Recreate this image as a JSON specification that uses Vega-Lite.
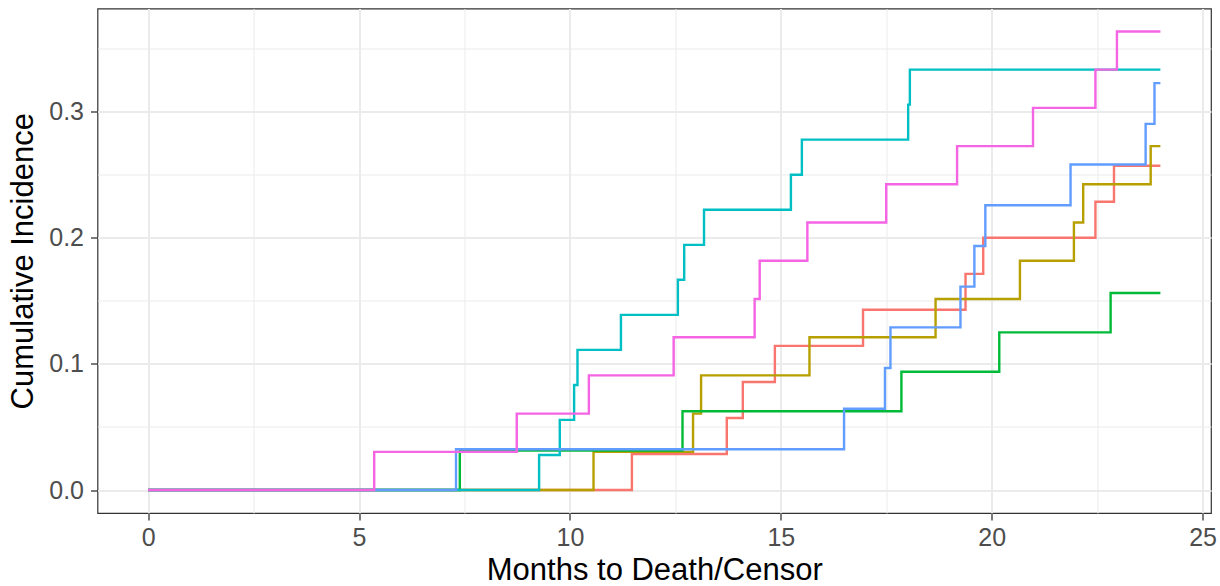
{
  "$schema": "https://vega.github.io/schema/vega-lite/v6.json",
  "autosize": {"type": "none"},
  "width": 1113.5,
  "height": 504.5,
  "padding": {"left": 97.5, "top": 8.5, "right": 9, "bottom": 73},
  "background": "white",
  "config": {
    "view": {"stroke": "#333333", "strokeWidth": 1.2},
    "font": "Liberation Sans"
  },
  "data": {"values": [
    {"g": "1", "t": 0, "ci": 0}, {"g": "1", "t": 11.47, "ci": 0.0286}, {"g": "1", "t": 13.72, "ci": 0.0571}, {"g": "1", "t": 14.1, "ci": 0.0857}, {"g": "1", "t": 14.86, "ci": 0.1143}, {"g": "1", "t": 16.95, "ci": 0.1429}, {"g": "1", "t": 19.38, "ci": 0.1714}, {"g": "1", "t": 19.8, "ci": 0.2}, {"g": "1", "t": 22.46, "ci": 0.2286}, {"g": "1", "t": 22.9, "ci": 0.2571}, {"g": "1", "t": 24, "ci": 0.2571},
    {"g": "2", "t": 0, "ci": 0}, {"g": "2", "t": 10.56, "ci": 0.0303}, {"g": "2", "t": 12.92, "ci": 0.0606}, {"g": "2", "t": 13.11, "ci": 0.0909}, {"g": "2", "t": 15.68, "ci": 0.1212}, {"g": "2", "t": 18.67, "ci": 0.1515}, {"g": "2", "t": 20.67, "ci": 0.1818}, {"g": "2", "t": 21.95, "ci": 0.2121}, {"g": "2", "t": 22.17, "ci": 0.2424}, {"g": "2", "t": 23.77, "ci": 0.2727}, {"g": "2", "t": 24, "ci": 0.2727},
    {"g": "3", "t": 0, "ci": 0}, {"g": "3", "t": 7.39, "ci": 0.03125}, {"g": "3", "t": 12.67, "ci": 0.0625}, {"g": "3", "t": 17.86, "ci": 0.09375}, {"g": "3", "t": 20.18, "ci": 0.125}, {"g": "3", "t": 22.82, "ci": 0.15625}, {"g": "3", "t": 24, "ci": 0.15625},
    {"g": "4", "t": 0, "ci": 0}, {"g": "4", "t": 9.27, "ci": 0.0278}, {"g": "4", "t": 9.76, "ci": 0.0556}, {"g": "4", "t": 10.1, "ci": 0.0833}, {"g": "4", "t": 10.18, "ci": 0.1111}, {"g": "4", "t": 11.21, "ci": 0.1389}, {"g": "4", "t": 12.56, "ci": 0.1667}, {"g": "4", "t": 12.71, "ci": 0.1944}, {"g": "4", "t": 13.18, "ci": 0.2222}, {"g": "4", "t": 15.24, "ci": 0.25}, {"g": "4", "t": 15.5, "ci": 0.2778}, {"g": "4", "t": 18.02, "ci": 0.3056}, {"g": "4", "t": 18.06, "ci": 0.3333}, {"g": "4", "t": 24, "ci": 0.3333},
    {"g": "5", "t": 0, "ci": 0}, {"g": "5", "t": 7.3, "ci": 0.0323}, {"g": "5", "t": 16.5, "ci": 0.0645}, {"g": "5", "t": 17.47, "ci": 0.0968}, {"g": "5", "t": 17.6, "ci": 0.129}, {"g": "5", "t": 19.26, "ci": 0.1613}, {"g": "5", "t": 19.59, "ci": 0.1935}, {"g": "5", "t": 19.85, "ci": 0.2258}, {"g": "5", "t": 21.87, "ci": 0.2581}, {"g": "5", "t": 23.65, "ci": 0.2903}, {"g": "5", "t": 23.86, "ci": 0.3226}, {"g": "5", "t": 24, "ci": 0.3226},
    {"g": "6", "t": 0, "ci": 0}, {"g": "6", "t": 5.36, "ci": 0.0303}, {"g": "6", "t": 8.74, "ci": 0.0606}, {"g": "6", "t": 10.45, "ci": 0.0909}, {"g": "6", "t": 12.46, "ci": 0.1212}, {"g": "6", "t": 14.38, "ci": 0.1515}, {"g": "6", "t": 14.5, "ci": 0.1818}, {"g": "6", "t": 15.63, "ci": 0.2121}, {"g": "6", "t": 17.5, "ci": 0.2424}, {"g": "6", "t": 19.18, "ci": 0.2727}, {"g": "6", "t": 20.98, "ci": 0.303}, {"g": "6", "t": 22.46, "ci": 0.3333}, {"g": "6", "t": 22.97, "ci": 0.3636}, {"g": "6", "t": 24, "ci": 0.3636}
  ]},
  "mark": {"type": "line", "interpolate": "step-after", "strokeWidth": 2.4, "clip": true},
  "encoding": {
    "x": {
      "field": "t", "type": "quantitative",
      "scale": {"domain": [-1.2, 25.2], "nice": false, "zero": false},
      "axis": {
        "title": "Months to Death/Censor",
        "titleFontSize": 31, "titleFontWeight": "normal", "titleColor": "black", "titlePadding": 5,
        "values": [0, 2.5, 5, 7.5, 10, 12.5, 15, 17.5, 20, 22.5, 25],
        "labelExpr": "datum.value % 5 === 0 ? format(datum.value, 'd') : ''",
        "labelFontSize": 25, "labelColor": "#4D4D4D", "labelPadding": 5,
        "domain": false,
        "tickColor": "#333333", "tickSize": 7, "tickWidth": 1.3,
        "tickOpacity": {"condition": {"test": "datum.value % 5 === 0", "value": 1}, "value": 0},
        "grid": true, "gridColor": "#EBEBEB",
        "gridWidth": {"condition": {"test": "datum.value % 5 === 0", "value": 2}, "value": 1}
      }
    },
    "y": {
      "field": "ci", "type": "quantitative",
      "scale": {"domain": [-0.0182, 0.3818], "nice": false, "zero": false},
      "axis": {
        "title": "Cumulative Incidence",
        "titleFontSize": 31, "titleFontWeight": "normal", "titleColor": "black", "titlePadding": 9,
        "values": [0, 0.05, 0.1, 0.15, 0.2, 0.25, 0.3, 0.35],
        "labelExpr": "abs(datum.value * 10 - round(datum.value * 10)) < 0.001 ? format(datum.value, '.1f') : ''",
        "labelFontSize": 25, "labelColor": "#4D4D4D", "labelPadding": 7,
        "domain": false,
        "tickColor": "#333333", "tickSize": 7, "tickWidth": 1.3,
        "tickOpacity": {"condition": {"test": "abs(datum.value * 10 - round(datum.value * 10)) < 0.001", "value": 1}, "value": 0},
        "grid": true, "gridColor": "#EBEBEB",
        "gridWidth": {"condition": {"test": "abs(datum.value * 10 - round(datum.value * 10)) < 0.001", "value": 2}, "value": 1}
      }
    },
    "color": {
      "field": "g", "type": "nominal", "legend": null,
      "scale": {"domain": ["1", "2", "3", "4", "5", "6"], "range": ["#F8766D", "#B79F00", "#00BA38", "#00BFC4", "#619CFF", "#F564E3"]}
    }
  }
}
